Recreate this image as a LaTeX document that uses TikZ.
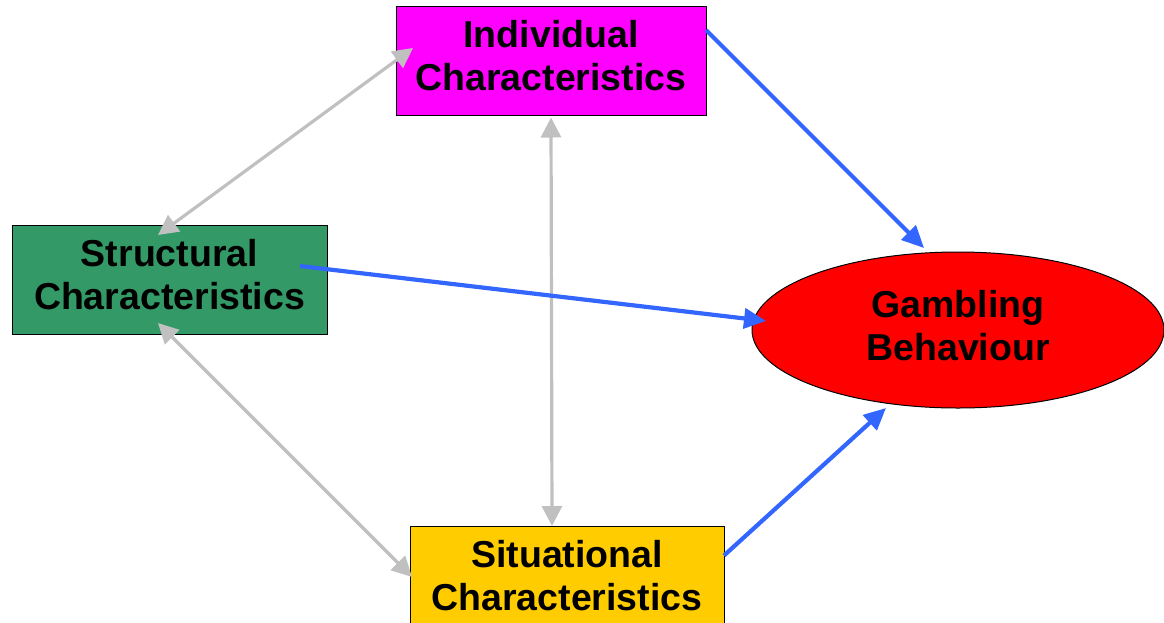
\documentclass[tikz,border=0pt]{standalone}
\usepackage{fontspec}
\setmainfont{Liberation Sans}
\usetikzlibrary{arrows.meta,shapes.geometric}
\definecolor{indc}{HTML}{FF00FF}
\definecolor{strc}{HTML}{339966}
\definecolor{sitc}{HTML}{FFCC00}
\definecolor{gamc}{HTML}{FF0000}
\definecolor{grayc}{HTML}{C0C0C0}
\definecolor{bluec}{HTML}{3366FF}
\newcommand{\twolines}[2]{\raisebox{4pt}{\begin{tabular}{@{}c@{}}#1\\#2\end{tabular}}}
\tikzset{
  box/.style={draw=black, line width=1pt, minimum width=#1, minimum height=109pt, inner sep=0pt,
    align=center, font=\fontsize{37.5}{43}\selectfont\bfseries},
  oval/.style={ellipse, draw=black, line width=1pt, minimum width=412pt, minimum height=156pt, inner sep=0pt,
    align=center, font=\fontsize{37.5}{43}\selectfont\bfseries, fill=gamc},
  gline/.style={draw=grayc, line width=3.2pt, {Triangle[length=20pt,width=20pt]}-{Triangle[length=20pt,width=20pt]}},
  bline/.style={draw=bluec, line width=4.2pt, -{Triangle[length=22pt,width=20pt]}}
}
\begin{document}
\begin{tikzpicture}[x=1pt,y=-1pt]
\useasboundingbox (0,0) rectangle (1164,622);
\node[box=310pt, fill=indc] (ind) at (551,60.5) {\twolines{Individual}{Characteristics}};
\node[box=315pt, fill=strc] (str) at (169.5,279.5) {\twolines{Structural}{Characteristics}};
\node[box=314pt, fill=sitc] (sit) at (567,580.5) {\twolines{Situational}{Characteristics}};
\node[oval] (gam) at (958,330) {\twolines{Gambling}{Behaviour}};
% gray double arrows
\draw[gline] ([shift={(-138,-12.5)}]ind.center) -- ([shift={(-11.5,-44.5)}]str.center);
\draw[gline] ([shift={(-11.5,43.5)}]str.center) -- ([shift={(-155,-3.5)}]sit.center);
\draw[gline] ([shift={(0,57)}]ind.center) -- ([shift={(-15,-54.5)}]sit.center);
% blue arrows
\draw[bline] ([shift={(155,-30.5)}]ind.center) -- ([shift={(-34,-82)}]gam.center);
\draw[bline] ([shift={(130.5,-13.5)}]str.center) -- ([shift={(-192,-9)}]gam.center);
\draw[bline] ([shift={(157,-25)}]sit.center) -- ([shift={(-72,78)}]gam.center);
\end{tikzpicture}
\end{document}
